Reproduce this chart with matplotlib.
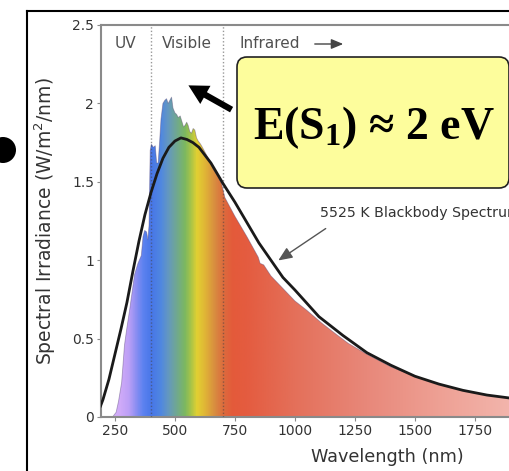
import numpy as np
import matplotlib
matplotlib.use('Agg')
import matplotlib.pyplot as plt
from matplotlib.colors import LinearSegmentedColormap
from matplotlib.patches import FancyBboxPatch, Circle, Polygon, FancyArrowPatch
from matplotlib.lines import Line2D

plt.rcParams['mathtext.default'] = 'regular'

# ---- data ----
solar_nm = [240, 255, 265, 278, 290, 300, 311, 332, 346, 360, 367, 374, 382, 387, 392,
            397, 402, 410, 418, 424, 430, 436, 442, 450, 458, 465, 472, 479, 486, 492,
            500, 507, 514, 522, 530, 536, 542, 549, 555, 562, 569, 576, 583, 590, 597,
            607, 618, 632, 646, 660, 677, 694, 708, 750, 800, 847, 855, 870, 900, 950,
            1000, 1050, 1111, 1170, 1222, 1300, 1400, 1500, 1600, 1700, 1800, 1900, 2000]
solar_irr = [0.00, 0.03, 0.10, 0.22, 0.46, 0.57, 0.68, 0.91, 0.98, 1.03, 1.15, 1.19, 1.18,
             1.13, 1.22, 1.70, 1.74, 1.72, 1.73, 1.62, 1.62, 1.75, 1.90, 2.00, 2.02, 2.03,
             2.00, 2.02, 2.04, 1.97, 1.94, 1.93, 1.91, 1.92, 1.88, 1.85, 1.86, 1.88, 1.86,
             1.82, 1.81, 1.84, 1.83, 1.78, 1.76, 1.74, 1.71, 1.67, 1.63, 1.58, 1.54, 1.49,
             1.40, 1.28, 1.15, 1.02, 0.98, 0.97, 0.90, 0.82, 0.74, 0.68, 0.60, 0.53, 0.47,
             0.40, 0.32, 0.26, 0.21, 0.17, 0.14, 0.12, 0.10]

bb_nm = [190, 200, 225, 250, 275, 300, 325, 350, 375, 400, 425, 450, 475, 500, 525,
         550, 575, 600, 650, 700, 750, 800, 850, 900, 950, 1000, 1100, 1200, 1300,
         1400, 1500, 1600, 1700, 1800, 1900, 2000]
bb_irr = [0.07, 0.11, 0.24, 0.40, 0.56, 0.73, 0.93, 1.12, 1.29, 1.43, 1.55, 1.65, 1.72,
          1.76, 1.78, 1.77, 1.75, 1.72, 1.62, 1.49, 1.37, 1.24, 1.11, 1.00, 0.89, 0.81,
          0.64, 0.52, 0.41, 0.33, 0.26, 0.21, 0.17, 0.14, 0.12, 0.10]

xticks = [250, 500, 750, 1000, 1250, 1500, 1750]
yticks = [0, 0.5, 1, 1.5, 2, 2.5]
region_bounds = [400, 700]
region_labels = ['UV', 'Visible', 'Infrared']

# ---- figure ----
W, H = 510, 471
fig = plt.figure(figsize=(W / 100, H / 100), dpi=100)
XMIN, XMAX = 192, 2000
ax = fig.add_axes([101 / W, 1 - 417 / H, (XMAX - XMIN) * 0.24 / W, 392 / H])
ax.set_xlim(XMIN, XMAX)
ax.set_ylim(0, 2.5)

# spectrum fill with rainbow gradient
stops = [(192, '#dab8f8'), (270, '#cfaaf8'), (305, '#bca0f6'), (335, '#8c8ef2'),
         (365, '#5c82f0'), (400, '#4876e8'), (440, '#5088e0'), (470, '#6498c0'),
         (505, '#70a890'), (540, '#7cb860'), (565, '#a8c448'), (590, '#e2d032'),
         (625, '#e0b436'), (665, '#d88c40'), (700, '#dc6c3e'), (740, '#e45a3a'),
         (800, '#e45c40'), (1000, '#e4705a'), (1300, '#e8887a'), (1600, '#eea094'),
         (2000, '#f4bcb4')]
cmap = LinearSegmentedColormap.from_list(
    'spec', [((n - XMIN) / (XMAX - XMIN), c) for n, c in stops])
grad = np.linspace(0, 1, 1024)[None, :]
im = ax.imshow(grad, extent=[XMIN, XMAX, 0, 2.5], aspect='auto', cmap=cmap,
               origin='lower', zorder=1, interpolation='bilinear')
verts = np.column_stack([solar_nm + solar_nm[::-1],
                         solar_irr + [0] * len(solar_irr)])
poly = Polygon(verts, closed=True, facecolor='none', edgecolor='none',
               transform=ax.transData)
ax.add_patch(poly)
im.set_clip_path(poly)
ax.plot(solar_nm, solar_irr, color='#5a4a7a', lw=0.6, alpha=0.45, zorder=2)

# region separators
for b in region_bounds:
    ax.axvline(b, color='#444444', ls=(0, (1, 1.5)), lw=1, alpha=0.55, zorder=3)

# blackbody curve
ax.plot(bb_nm, bb_irr, color='#1a1a1a', lw=2, zorder=4)

for s in ['left', 'bottom', 'top']:
    ax.spines[s].set_color('#8a8a8a')
    ax.spines[s].set_linewidth(1.5)
ax.spines['right'].set_visible(False)
ax.set_xticks(xticks)
ax.set_yticks(yticks)
ax.set_yticklabels(['%g' % v for v in yticks])
ax.tick_params(direction='out', length=3, color='#8a8a8a', labelcolor='#333333',
               labelsize=10, pad=2)


def fx(px):
    return px / W


def fy(py):
    return 1 - py / H


# axis labels
fig.text(fx(387), fy(457), 'Wavelength (nm)', fontsize=12.7, color='#333333',
         ha='center', va='center')
fig.text(fx(45), fy(221), 'Spectral Irradiance (W/m$^2$/nm)', fontsize=13.5,
         color='#333333', ha='center', va='center', rotation=90)

# region labels
fig.text(fx(125), fy(43), region_labels[0], fontsize=11, color='#505050',
         ha='center', va='center')
fig.text(fx(187), fy(43), region_labels[1], fontsize=11, color='#505050',
         ha='center', va='center')
fig.text(fx(240), fy(43), region_labels[2], fontsize=11, color='#505050',
         ha='left', va='center')
fig.add_artist(FancyArrowPatch((3.12, (H - 44) / 100), (3.46, (H - 44) / 100),
                               transform=fig.dpi_scale_trans,
                               arrowstyle='-|>,head_length=0.6,head_width=0.25',
                               mutation_scale=12, color='#444444', lw=1))

# yellow callout
box = FancyBboxPatch((2.37, (H - 188) / 100), 2.72, 1.31,
                     boxstyle='round,pad=0,rounding_size=0.1',
                     transform=fig.dpi_scale_trans, facecolor='#fdfd9c',
                     edgecolor='#222222', lw=1.2)
fig.add_artist(box)
fig.text(fx(374), fy(128), 'E(S$_1$) ≈ 2 eV', fontsize=33, fontweight='bold',
         family='Liberation Serif', ha='center', va='center', color='black')
fig.add_artist(FancyArrowPatch((2.34, (H - 111) / 100), (1.86, (H - 84) / 100),
                               transform=fig.dpi_scale_trans,
                               arrowstyle='simple,head_length=1.4,head_width=1.5,tail_width=0.45',
                               mutation_scale=10, color='black', lw=0))

# blackbody annotation
fig.text(fx(320), fy(213), '5525 K Blackbody Spectrum', fontsize=10.2,
         color='#333333', ha='left', va='center')
fig.add_artist(FancyArrowPatch((3.28, (H - 227) / 100), (2.76, (H - 262) / 100),
                               transform=fig.dpi_scale_trans,
                               arrowstyle='-|>,head_length=0.7,head_width=0.3',
                               mutation_scale=12, color='#555555', lw=1))

# outer slide frame and bullet
fig.add_artist(Line2D([27 / 100, 27 / 100], [0, (H - 11) / 100],
                      transform=fig.dpi_scale_trans, color='black', lw=1.5))
fig.add_artist(Line2D([27 / 100, W / 100], [(H - 11) / 100, (H - 11) / 100],
                      transform=fig.dpi_scale_trans, color='black', lw=1.5))
fig.add_artist(Circle((0.03, (H - 150) / 100), 0.13, transform=fig.dpi_scale_trans,
                      facecolor='black', edgecolor='none'))

fig.savefig('out.png', dpi=100)
